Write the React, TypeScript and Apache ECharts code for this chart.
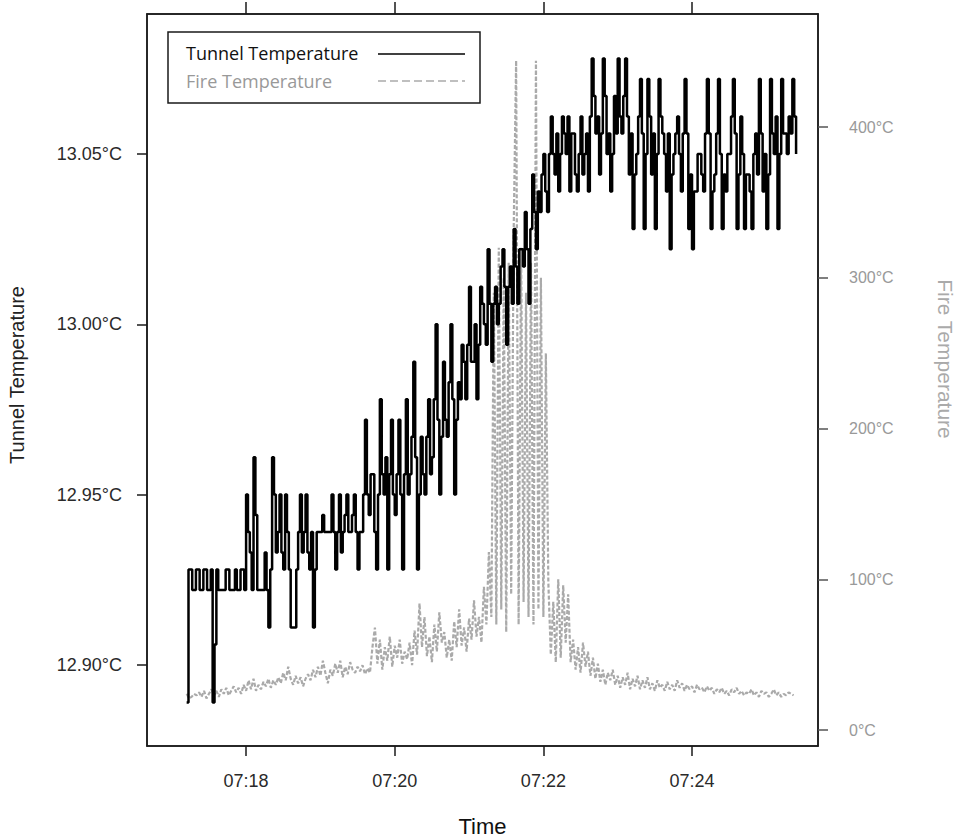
import React, { useEffect, useRef } from "react";
import * as echarts from "echarts";

// Time base: seconds after 07:00:00
const tunnelStart = 1032; // 07:17:12
const tunnelStep = 1.5;
const fireStart = 1032;
const fireStep = 2;

// Tunnel temperature (°C), one reading every 1.5 s
const tunnelTemp = [
  12.889, 12.928, 12.928, 12.922, 12.922, 12.928, 12.928, 12.922, 12.922, 12.928,
  12.928, 12.922, 12.922, 12.928, 12.889, 12.906, 12.928, 12.922, 12.922, 12.922,
  12.922, 12.928, 12.928, 12.922, 12.922, 12.922, 12.928, 12.922, 12.922, 12.928,
  12.928, 12.922, 12.950, 12.939, 12.933, 12.922, 12.961, 12.944, 12.922, 12.922,
  12.922, 12.922, 12.933, 12.922, 12.911, 12.928, 12.961, 12.950, 12.933, 12.939,
  12.950, 12.933, 12.928, 12.950, 12.939, 12.928, 12.911, 12.911, 12.911, 12.928,
  12.939, 12.950, 12.933, 12.939, 12.950, 12.933, 12.928, 12.939, 12.911, 12.928,
  12.939, 12.939, 12.939, 12.944, 12.939, 12.939, 12.939, 12.939, 12.950, 12.939,
  12.928, 12.939, 12.950, 12.933, 12.939, 12.944, 12.950, 12.939, 12.939, 12.944,
  12.950, 12.939, 12.928, 12.939, 12.939, 12.950, 12.972, 12.950, 12.944, 12.956,
  12.956, 12.939, 12.928, 12.950, 12.978, 12.956, 12.950, 12.961, 12.928, 12.956,
  12.972, 12.950, 12.944, 12.956, 12.972, 12.950, 12.928, 12.956, 12.978, 12.950,
  12.956, 12.967, 12.989, 12.961, 12.928, 12.950, 12.967, 12.956, 12.950, 12.967,
  12.978, 12.956, 12.961, 12.978, 13.000, 12.972, 12.950, 12.967, 12.989, 12.972,
  12.967, 12.983, 13.000, 12.978, 12.950, 12.972, 12.983, 12.978, 12.994, 12.989,
  12.978, 12.994, 13.011, 12.989, 12.989, 13.000, 12.978, 12.994, 13.011, 13.006,
  13.000, 12.994, 13.022, 13.006, 12.989, 13.006, 13.011, 13.000, 13.006, 13.017,
  13.022, 13.011, 12.994, 13.011, 13.017, 13.006, 13.028, 13.017, 13.006, 13.022,
  13.022, 13.017, 13.033, 13.022, 13.006, 13.028, 13.044, 13.033, 13.022, 13.039,
  13.033, 13.044, 13.050, 13.039, 13.033, 13.050, 13.061, 13.050, 13.044, 13.056,
  13.039, 13.050, 13.061, 13.056, 13.050, 13.061, 13.039, 13.056, 13.056, 13.044,
  13.039, 13.050, 13.061, 13.044, 13.050, 13.056, 13.039, 13.061, 13.078, 13.067,
  13.056, 13.061, 13.044, 13.056, 13.078, 13.067, 13.050, 13.056, 13.039, 13.050,
  13.067, 13.056, 13.078, 13.061, 13.056, 13.067, 13.078, 13.061, 13.044, 13.056,
  13.028, 13.044, 13.050, 13.061, 13.072, 13.056, 13.028, 13.050, 13.072, 13.061,
  13.044, 13.056, 13.028, 13.050, 13.072, 13.061, 13.056, 13.050, 13.039, 13.056,
  13.022, 13.044, 13.050, 13.056, 13.061, 13.050, 13.039, 13.056, 13.072, 13.056,
  13.028, 13.044, 13.022, 13.039, 13.039, 13.050, 13.050, 13.044, 13.039, 13.056,
  13.072, 13.056, 13.028, 13.039, 13.044, 13.056, 13.072, 13.050, 13.028, 13.044,
  13.039, 13.050, 13.050, 13.061, 13.072, 13.056, 13.028, 13.044, 13.061, 13.050,
  13.028, 13.044, 13.044, 13.039, 13.028, 13.050, 13.056, 13.044, 13.072, 13.056,
  13.039, 13.050, 13.028, 13.044, 13.072, 13.056, 13.050, 13.061, 13.028, 13.050,
  13.072, 13.056, 13.056, 13.050, 13.061, 13.056, 13.072, 13.061, 13.050,
];

// Fire temperature (°C), one reading every 2 s
const fireTemp = [
  24, 21, 22, 24, 23, 25, 22, 26, 21, 24,
  27, 23, 26, 22, 27, 24, 28, 23, 26, 29,
  25, 28, 24, 30, 26, 33, 27, 34, 26, 30,
  27, 32, 29, 34, 28, 33, 30, 35, 31, 38,
  33, 42, 34, 30, 36, 31, 35, 29, 34, 37,
  33, 40, 35, 42, 36, 46, 38, 31, 40, 36,
  44, 38, 46, 35, 42, 37, 45, 40, 38, 42,
  39, 43, 37, 41, 38, 55, 68, 44, 60, 40,
  55, 46, 62, 42, 56, 48, 60, 44, 52, 47,
  58, 43, 66, 50, 84, 55, 75, 49, 62, 45,
  70, 52, 78, 58, 65, 48, 60, 46, 72, 55,
  80, 56, 68, 52, 74, 60, 86, 62, 75, 58,
  95, 70, 118, 75, 290, 70, 320, 80, 300, 65,
  310, 90, 330, 444, 70, 320, 85, 290, 75, 310,
  70, 444, 80, 300, 75, 250, 98, 50, 85, 45,
  100, 48, 96, 58, 90, 45, 60, 40, 55, 38,
  58, 42, 52, 36, 48, 34, 44, 32, 40, 30,
  38, 33, 40, 30, 36, 28, 35, 30, 38, 27,
  34, 29, 36, 27, 33, 28, 35, 27, 31, 26,
  33, 28, 30, 26, 32, 27, 30, 26, 33, 28,
  31, 26, 30, 27, 29, 25, 30, 27, 28, 25,
  29, 26, 28, 24, 27, 25, 28, 24, 26, 23,
  27, 25, 28, 24, 26, 23, 25, 24, 27, 23,
  25, 22, 26, 24, 25, 22, 24, 27, 23, 25,
  22, 24, 23, 25, 24, 23,
];

const xTickValues = [1080, 1200, 1320, 1440];
const xTickLabels = ["07:18", "07:20", "07:22", "07:24"];
const leftTickValues = [12.9, 12.95, 13.0, 13.05];
const leftTickLabels = ["12.90°C", "12.95°C", "13.00°C", "13.05°C"];
const rightTickValues = [0, 100, 200, 300, 400];
const rightTickLabels = ["0°C", "100°C", "200°C", "300°C", "400°C"];

const seriesNames = ["Tunnel Temperature", "Fire Temperature"];

const W = 964;
const H = 839;
const G = { left: 147, top: 14, right: 818, bottom: 746 };
const tickFont = "Liberation Sans, Arial, sans-serif";
const legendFont = "'Open Sans', 'Noto Sans', sans-serif";

function labelFor(values: number[], labels: string[], v: number) {
  let best = 0;
  for (let i = 1; i < values.length; i++) {
    if (Math.abs(values[i] - v) < Math.abs(values[best] - v)) best = i;
  }
  return labels[best];
}

export default function App() {
  const ref = useRef<HTMLDivElement>(null);
  useEffect(() => {
    if (!ref.current) return;
    const chart = echarts.init(ref.current, null, { renderer: "svg" });
    const tunnelData = tunnelTemp.map((v, i) => [tunnelStart + i * tunnelStep, v]);
    const fireData = fireTemp.map((v, i) => [fireStart + i * fireStep, v]);
    const axisLine = { show: true, onZero: false, lineStyle: { color: "#1a1a1a", width: 1.5 } };
    chart.setOption({
      animation: false,
      backgroundColor: "#ffffff",
      grid: {
        left: G.left,
        top: G.top,
        width: G.right - G.left,
        height: G.bottom - G.top,
        show: true,
        borderColor: "#1a1a1a",
        borderWidth: 1.5,
        backgroundColor: "transparent",
      },
      xAxis: [
        {
          type: "value",
          position: "bottom",
          min: 1000,
          max: 1541.7,
          axisLine,
          splitLine: { show: false },
          axisTick: {
            show: true,
            length: 10,
            customValues: xTickValues,
            lineStyle: { color: "#1a1a1a", width: 1.5 },
          },
          axisLabel: {
            customValues: xTickValues,
            formatter: (v: number) => labelFor(xTickValues, xTickLabels, v),
            margin: 26,
            fontSize: 18,
            fontFamily: tickFont,
            color: "#2a2a2a",
          },
        },
        {
          type: "value",
          position: "top",
          min: 1000,
          max: 1541.7,
          axisLine,
          splitLine: { show: false },
          axisTick: {
            show: true,
            length: 12,
            customValues: xTickValues,
            lineStyle: { color: "#1a1a1a", width: 1.5 },
          },
          axisLabel: { show: false },
        },
      ],
      yAxis: [
        {
          type: "value",
          position: "left",
          min: 12.8762,
          max: 13.0911,
          axisLine,
          splitLine: { show: false },
          axisTick: {
            show: true,
            length: 10,
            customValues: leftTickValues,
            lineStyle: { color: "#1a1a1a", width: 1.5 },
          },
          axisLabel: {
            customValues: leftTickValues,
            formatter: (v: number) => labelFor(leftTickValues, leftTickLabels, v),
            margin: 25,
            fontSize: 18,
            fontFamily: tickFont,
            color: "#2a2a2a",
          },
        },
        {
          type: "value",
          position: "right",
          min: -10.6,
          max: 475,
          axisLine,
          splitLine: { show: false },
          axisTick: {
            show: true,
            length: 10,
            customValues: rightTickValues,
            lineStyle: { color: "#555", width: 1.5 },
          },
          axisLabel: {
            customValues: rightTickValues,
            formatter: (v: number) => labelFor(rightTickValues, rightTickLabels, v),
            margin: 31,
            fontSize: 16,
            fontFamily: tickFont,
            color: "#999",
          },
        },
      ],
      series: [
        {
          name: seriesNames[1],
          type: "line",
          xAxisIndex: 0,
          yAxisIndex: 1,
          data: fireData,
          showSymbol: false,
          symbol: "none",
          lineStyle: { color: "#aaaaaa", width: 2.2, type: [4, 2] },
          z: 2,
        },
        {
          name: seriesNames[0],
          type: "line",
          xAxisIndex: 0,
          yAxisIndex: 0,
          data: tunnelData,
          step: "end",
          showSymbol: false,
          symbol: "none",
          lineStyle: { color: "#000", width: 2.5 },
          z: 3,
        },
      ],
      graphic: [
        {
          type: "rect",
          z: 100,
          shape: { x: 168, y: 32, width: 312, height: 71 },
          style: { fill: "#fff", stroke: "#1a1a1a", lineWidth: 1.5 },
        },
        {
          type: "text",
          z: 101,
          x: 186,
          y: 53,
          style: {
            text: seriesNames[0],
            fill: "#111",
            font: "18px " + legendFont,
            textAlign: "left",
            textVerticalAlign: "middle",
          },
        },
        {
          type: "line",
          z: 101,
          shape: { x1: 378, y1: 54, x2: 465, y2: 54 },
          style: { stroke: "#000", lineWidth: 1.5 },
        },
        {
          type: "text",
          z: 101,
          x: 186,
          y: 81,
          style: {
            text: seriesNames[1],
            fill: "#999",
            font: "18px " + legendFont,
            textAlign: "left",
            textVerticalAlign: "middle",
          },
        },
        {
          type: "line",
          z: 101,
          shape: { x1: 378, y1: 81, x2: 465, y2: 81 },
          style: { stroke: "#aaa", lineWidth: 1.5, lineDash: [8, 4] },
        },
        {
          type: "text",
          z: 101,
          x: (G.left + G.right) / 2,
          y: 826,
          style: {
            text: "Time",
            fill: "#111",
            font: "22px " + tickFont,
            textAlign: "center",
            textVerticalAlign: "middle",
          },
        },
        {
          type: "text",
          z: 101,
          x: 17,
          y: 375,
          rotation: Math.PI / 2,
          style: {
            text: "Tunnel Temperature",
            fill: "#222",
            font: "20px " + tickFont,
            textAlign: "center",
            textVerticalAlign: "middle",
          },
        },
        {
          type: "text",
          z: 101,
          x: 945,
          y: 359,
          rotation: -Math.PI / 2,
          style: {
            text: "Fire Temperature",
            fill: "#aaa",
            font: "21px " + tickFont,
            textAlign: "center",
            textVerticalAlign: "middle",
          },
        },
      ],
    });
    return () => chart.dispose();
  }, []);
  return (
    <div
      ref={ref}
      style={{ position: "fixed", left: 0, top: 0, width: W, height: H, background: "#fff" }}
    />
  );
}
